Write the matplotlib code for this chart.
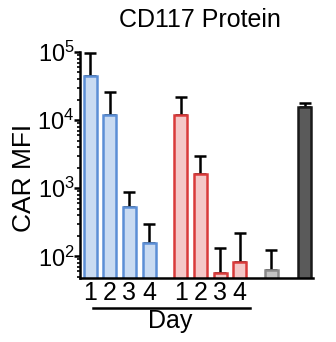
import numpy as np
import matplotlib
matplotlib.use("Agg")
import matplotlib.pyplot as plt
import matplotlib.transforms as mtransforms

# Values (CAR MFI, log scale)
days = ["1", "2", "3", "4"]
blue_vals = [44000, 12000, 525, 155]
blue_err_top = [96000, 26000, 870, 296]
red_vals = [12000, 1630, 56, 82]
red_err_top = [22000, 2950, 134, 218]
gray_val = [62]
gray_err_top = [122]
dark_val = [15600]
dark_err_top = [18000]

plt.rcParams['font.family'] = ['Liberation Sans', 'DejaVu Sans']
plt.rcParams['mathtext.fontset'] = 'custom'
plt.rcParams['mathtext.rm'] = 'Liberation Sans'

fig = plt.figure(figsize=(3.36, 3.42), dpi=100)
ax = fig.add_axes([0.238, 0.187, 0.694, 0.661])

x_blue = np.arange(4)
x_red = np.arange(4) + 4.6
x_gray = np.array([9.2])
x_dark = np.array([10.9])
w = 0.66


def draw(xs, vals, tops, fc, ec):
    vals = np.array(vals)
    tops = np.array(tops)
    ax.bar(xs, vals, width=w, color=fc, edgecolor=ec, linewidth=1.8,
           zorder=2)
    ax.errorbar(xs, vals, yerr=[np.zeros_like(vals), tops - vals],
                fmt='none', ecolor='black', elinewidth=1.8, capsize=4,
                capthick=1.8, zorder=1)


draw(x_blue, blue_vals, blue_err_top, '#c9dbf2', '#5c8fd6')
draw(x_red, red_vals, red_err_top, '#f4c8c8', '#d93b3b')
draw(x_gray, gray_val, gray_err_top, '#c4c4c4', '#8a8a8a')
draw(x_dark, dark_val, dark_err_top, '#5a5a5a', '#1a1a1a')

ax.set_yscale('log')
ax.set_ylim(48, 1e5)
ax.set_xlim(-0.51, 11.32)

ax.set_yticks([1e2, 1e3, 1e4, 1e5])
ax.set_yticklabels([r'$\mathrm{10^2}$', r'$\mathrm{10^3}$',
                    r'$\mathrm{10^4}$', r'$\mathrm{10^5}$'], fontsize=17)
ax.tick_params(axis='y', which='major', length=4, width=1.8, pad=0)
ax.tick_params(axis='y', which='minor', length=2.5, width=1.2)

ax.set_xticks(list(x_blue) + list(x_red))
ax.set_xticklabels(days + days, fontsize=18)
ax.tick_params(axis='x', length=0, pad=2)

for s in ['top', 'right']:
    ax.spines[s].set_visible(False)
for s in ['left', 'bottom']:
    ax.spines[s].set_linewidth(1.8)

fig.text(0.072, 0.48, 'CAR MFI', rotation=90, ha='center', va='center',
         fontsize=19)
fig.text(0.595, 0.921, 'CD117 Protein', ha='center', va='baseline',
         fontsize=18)

# group underline and "Day" label
trans = mtransforms.blended_transform_factory(ax.transData, fig.transFigure)
ax.plot([0.15, 8.1], [0.099, 0.099], color='black', lw=1.8,
        transform=trans, clip_on=False)
fig.text(0.506, 0.041, 'Day', ha='center', va='baseline', fontsize=18)

fig.savefig('out.png', dpi=100)
